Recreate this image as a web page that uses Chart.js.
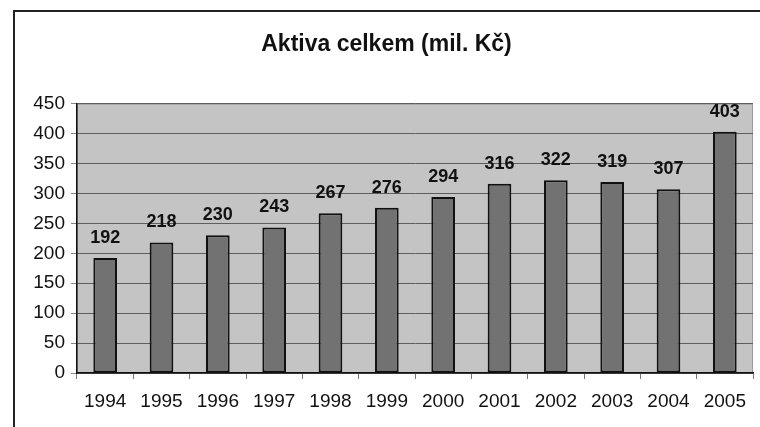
<!DOCTYPE html>
<html>
<head>
<meta charset="utf-8">
<script src="https://cdn.jsdelivr.net/npm/chart.js@4/dist/chart.umd.min.js"></script>
<style>
  html, body { margin: 0; padding: 0; background: #fff; }
  #wrap { position: relative; width: 760px; height: 427px; overflow: hidden; }
  #frame {
    position: absolute; left: 13px; top: 10px; width: 760px; height: 430px;
    border: 2px solid #222; border-bottom: none; border-right: none;
  }
  canvas { position: absolute; left: 0; top: 0; }
</style>
</head>
<body>
<div id="wrap">
  <div id="frame"></div>
  <canvas id="chart" width="760" height="427"></canvas>
</div>
<script>
const years = ["1994", "1995", "1996", "1997", "1998", "1999", "2000", "2001", "2002", "2003", "2004", "2005"];
const assets = [192, 218, 230, 243, 267, 276, 294, 316, 322, 319, 307, 403];
const yTicks = [0, 50, 100, 150, 200, 250, 300, 350, 400, 450];
const titleText = "Aktiva celkem (mil. Kč)";

const fontFamily = "'Liberation Sans', Arial, sans-serif";

const plotBackground = {
  id: "plotBackground",
  beforeDraw(chart) {
    const { ctx, chartArea: a } = chart;
    ctx.save();
    ctx.fillStyle = "#c4c4c4";
    ctx.fillRect(a.left, a.top, a.right - a.left, a.bottom - a.top);
    ctx.strokeStyle = "#9a9a9a";
    ctx.lineWidth = 1;
    ctx.strokeRect(a.left + 0.5, a.top + 0.5, a.right - a.left - 1, a.bottom - a.top - 1);
    ctx.restore();
  },
};

const valueLabels = {
  id: "valueLabels",
  afterDatasetsDraw(chart) {
    const { ctx } = chart;
    const meta = chart.getDatasetMeta(0);
    ctx.save();
    ctx.font = "bold 18px " + fontFamily;
    ctx.fillStyle = "#111";
    ctx.textAlign = "center";
    ctx.textBaseline = "bottom";
    meta.data.forEach((bar, i) => {
      ctx.fillText(String(assets[i]), bar.x, bar.y - 11);
    });
    ctx.restore();
  },
};

new Chart(document.getElementById("chart"), {
  type: "bar",
  data: {
    labels: years,
    datasets: [
      {
        data: assets,
        backgroundColor: "#727272",
        borderColor: "#111",
        borderWidth: 2,
        borderSkipped: false,
        categoryPercentage: 1,
        barPercentage: 0.42,
      },
    ],
  },
  options: {
    responsive: false,
    animation: false,
    // left padding only nudges the title; y axis width makes up the rest
    layout: { padding: { left: 20, right: 7, top: 0, bottom: 0 } },
    plugins: {
      legend: { display: false },
      tooltip: { enabled: false },
      title: {
        display: true,
        text: titleText,
        color: "#111",
        font: { family: fontFamily, size: 23, weight: "bold" },
        padding: { top: 31, bottom: 45 },
      },
    },
    scales: {
      x: {
        afterFit: (s) => { s.height = 54; },
        grid: {
          display: true,
          offset: true,
          drawOnChartArea: false,
          drawTicks: true,
          tickLength: 6,
          color: "#777",
        },
        border: { color: "#111", width: 1.5 },
        ticks: {
          color: "#111",
          padding: 11,
          font: { family: fontFamily, size: 19 },
        },
      },
      y: {
        min: 0,
        max: 450,
        afterFit: (s) => { s.width = 57; },
        afterBuildTicks: (s) => { s.ticks = yTicks.map((v) => ({ value: v })); },
        grid: {
          color: "#5e5e5e",
          lineWidth: 1,
          tickLength: 6,
          tickColor: "#888",
        },
        border: { color: "#111", width: 1.5 },
        ticks: {
          color: "#111",
          padding: 6,
          font: { family: fontFamily, size: 19 },
        },
      },
    },
  },
  plugins: [plotBackground, valueLabels],
});
</script>
</body>
</html>
